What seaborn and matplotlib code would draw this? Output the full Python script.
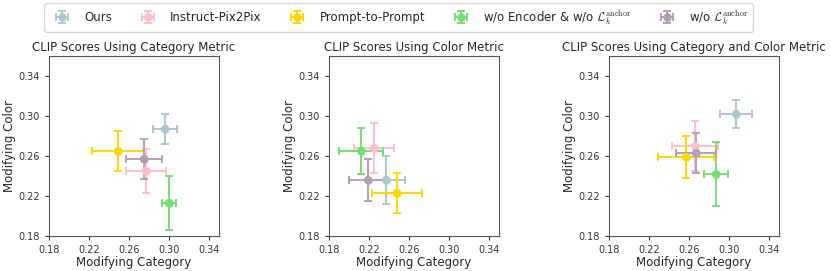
import numpy as np
import pandas as pd
import seaborn as sns
import matplotlib
matplotlib.use("Agg")
import matplotlib.pyplot as plt

# methods and colours
methods = ["Ours", "Instruct-Pix2Pix", "Prompt-to-Prompt",
           r"w/o Encoder & w/o $\mathcal{L}_k^{\rm anchor}$",
           r"w/o $\mathcal{L}_k^{\rm anchor}$"]
colors = ["#aec6cf", "#ffc0cb", "#ffd700", "#77dd77", "#b39eb5"]

titles = ["CLIP Scores Using Category Metric",
          "CLIP Scores Using Color Metric",
          "CLIP Scores Using Category and Color Metric"]

# category metric
cat_x = [0.296, 0.277, 0.249, 0.300, 0.275]
cat_xerr = [0.012, 0.020, 0.026, 0.007, 0.018]
cat_y = [0.287, 0.245, 0.265, 0.213, 0.257]
cat_yerr = [0.015, 0.022, 0.020, 0.027, 0.020]

# color metric
col_x = [0.237, 0.225, 0.248, 0.212, 0.219]
col_xerr = [0.019, 0.020, 0.025, 0.022, 0.019]
col_y = [0.236, 0.268, 0.223, 0.265, 0.236]
col_yerr = [0.024, 0.025, 0.020, 0.023, 0.021]

# category and color metric
both_x = [0.307, 0.266, 0.257, 0.287, 0.267]
both_xerr = [0.016, 0.023, 0.028, 0.012, 0.020]
both_y = [0.302, 0.270, 0.259, 0.242, 0.263]
both_yerr = [0.014, 0.025, 0.021, 0.032, 0.020]

ticks = [0.18, 0.22, 0.26, 0.30, 0.34]

sns.set_style("ticks")
plt.rcParams['font.family'] = ['DejaVu Sans']
plt.rcParams['mathtext.fontset'] = 'cm'

fig, axes = plt.subplots(1, 3, figsize=(8.31, 2.71), dpi=100)
plt.subplots_adjust(left=0.059, right=0.9375, bottom=0.129, top=0.793, wspace=0.647)

panels = [(cat_x, cat_xerr, cat_y, cat_yerr),
          (col_x, col_xerr, col_y, col_yerr),
          (both_x, both_xerr, both_y, both_yerr)]

handles = []
for ax, title, (xs, xe, ys, ye) in zip(axes, titles, panels):
    df = pd.DataFrame({"method": methods, "x": xs, "y": ys})
    sns.scatterplot(data=df, x="x", y="y", hue="method", palette=colors,
                    s=35, edgecolor="none", ax=ax, legend=False, zorder=3)
    hs = []
    for i in range(len(methods)):
        h = ax.errorbar(xs[i], ys[i], xerr=xe[i], yerr=ye[i], fmt="o",
                        color=colors[i], ecolor=colors[i], markersize=5,
                        capsize=3, elinewidth=1.4, capthick=1.4,
                        label=methods[i])
        hs.append(h)
    handles = hs
    ax.set_xlim(0.18, 0.35)
    ax.set_ylim(0.18, 0.36)
    ax.set_xticks(ticks)
    ax.set_yticks(ticks)
    ax.set_xticklabels([f"{t:.2f}" for t in ticks])
    ax.set_yticklabels([f"{t:.2f}" for t in ticks])
    ax.tick_params(labelsize=7, length=3, width=0.8, colors="#333333")
    for s in ax.spines.values():
        s.set_color("#555555")
        s.set_linewidth(0.8)
    ax.set_title(title, fontsize=8.5, pad=4)
    ax.set_xlabel("Modifying Category", fontsize=8.5, labelpad=1)
    ax.set_ylabel("Modifying Color", fontsize=8.5, labelpad=2)

fig.legend(handles, methods, loc="upper center", bbox_to_anchor=(0.48, 1.01),
           ncol=5, fontsize=8.5, frameon=True, fancybox=True,
           handlelength=2.2, columnspacing=1.9, borderpad=0.4)

fig.savefig("out.png", dpi=100)
